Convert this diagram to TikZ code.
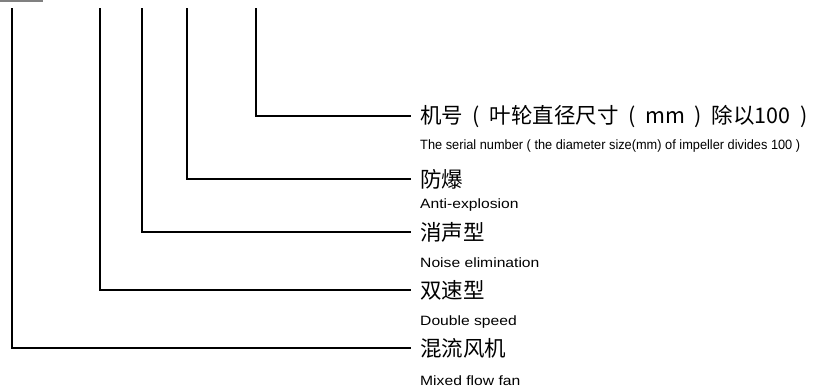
\documentclass[tikz,border=0pt]{standalone}
\usepackage{fontspec}
\usepackage{graphicx}
\setmainfont{Liberation Sans}
\newfontfamily\enwide[FakeStretch=1.16]{Liberation Sans}
\newfontfamily\cjk{Noto Sans CJK SC}
\newcommand\gp[1]{\hspace{0.45em}#1\hspace{0.45em}}
\begin{document}
\begin{tikzpicture}[x=1pt,y=-1pt,
  lead/.style={line width=1.3pt},
  cn/.style={anchor=west,inner xsep=9pt,inner ysep=0pt,font=\cjk\fontsize{21.5}{22}\selectfont},
  en/.style={anchor=west,inner sep=0pt,font=\enwide\fontsize{13.5}{14}\selectfont}]
\useasboundingbox (0,0) rectangle (817,389);
\draw[gray,line width=1.5pt] (0,1)--(43,1);
% tops of the leads
\foreach \name/\x in {t1/12,t2/100,t3/142,t4/187,t5/256}{
    \coordinate (\name) at (\x,8);
}
\node[cn] (c5) at (411,116) {机号\gp(叶轮直径尺寸\gp(mm\gp)除以100\gp)};
\node[en] (e5) at (420,146) {\resizebox{380pt}{\height}{The serial number ( the diameter size(mm) of impeller divides 100 )}};
\node[cn] (c4) at (411,179) {防爆};
\node[en] (e4) at (420,205) {Anti-explosion};
\node[cn] (c3) at (411,232) {消声型};
\node[en] (e3) at (420,263) {Noise elimination};
\node[cn] (c2) at (411,290) {双速型};
\node[en] (e2) at (420,322) {Double speed};
\node[cn] (c1) at (411,348) {混流风机};
\node[en] (e1) at (420,381) {Mixed flow fan};
\foreach \i in {1,...,5}{
    \draw[lead] (t\i) |- (c\i.west);
}
\end{tikzpicture}
\end{document}
